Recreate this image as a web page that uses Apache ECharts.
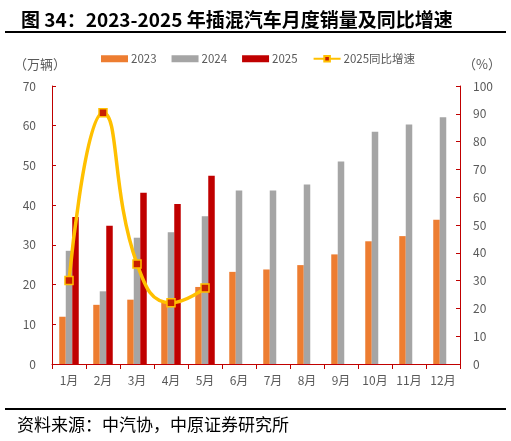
<!DOCTYPE html>
<html>
<head>
<meta charset="utf-8">
<script src="https://cdn.jsdelivr.net/npm/echarts@6/dist/echarts.min.js"></script>
<style>
  html, body { margin: 0; padding: 0; background: #fff; }
  #chart { width: 511px; height: 441px; }
</style>
</head>
<body>
<div id="chart"></div>
<script>
// 月份
const months = ['1月', '2月', '3月', '4月', '5月', '6月', '7月', '8月', '9月', '10月', '11月', '12月']
// 销量（万辆）
const sales2023 = [11.9, 14.9, 16.2, 15.8, 19.4, 23.2, 23.8, 24.9, 27.6, 30.9, 32.2, 36.3]
const sales2024 = [28.5, 18.3, 31.8, 33.2, 37.2, 43.7, 43.7, 45.2, 51.0, 58.5, 60.3, 62.1]
const sales2025 = [37.0, 34.8, 43.1, 40.3, 47.4, null, null, null, null, null, null, null]
// 2025同比增速（%）
const yoy2025 = [30.0, 90.4, 36.0, 22.0, 27.3, null, null, null, null, null, null, null]

const font = '"Noto Sans CJK SC", "Noto Sans", sans-serif'
const textGray = '#595959'
const axisRed = '#C00000'

const chart = echarts.init(document.getElementById('chart'))

const option = {
  animation: false,
  textStyle: { fontFamily: font },
  title: {
    text: '图 34：2023-2025 年插混汽车月度销量及同比增速',
    left: 16,
    top: 5,
    textStyle: { fontFamily: font, fontSize: 19, fontWeight: 'bold', color: '#000' }
  },
  graphic: [
    { type: 'rect', shape: { x: 5, y: 31, width: 501, height: 2 }, style: { fill: '#000' } },
    { type: 'rect', shape: { x: 5, y: 408, width: 501, height: 2 }, style: { fill: '#000' } },
    { type: 'text', left: 17, top: 416, style: { text: '资料来源：中汽协，中原证券研究所', font: '17px ' + font, fill: '#000' } },
    { type: 'text', left: 14, top: 58, style: { text: '（万辆）', font: '13px ' + font, fill: textGray } },
    { type: 'text', left: 463, top: 58, style: { text: '（%）', font: '13px ' + font, fill: textGray } }
  ],
  legend: {
    top: 48,
    left: 96,
    itemWidth: 27,
    itemHeight: 7,
    itemGap: 15,
    textStyle: { fontFamily: font, fontSize: 11.5, color: textGray, padding: [0, 0, 0, -2] },
    data: [
      { name: '2023', icon: 'rect' },
      { name: '2024', icon: 'rect' },
      { name: '2025', icon: 'rect' },
      { name: '2025同比增速' }
    ]
  },
  grid: { left: 52, right: 51, top: 86, bottom: 77 },
  xAxis: {
    type: 'category',
    data: months,
    axisLine: { lineStyle: { color: axisRed, width: 1 } },
    axisTick: { show: true, length: 5, lineStyle: { color: axisRed } },
    axisLabel: { color: textGray, fontSize: 12, margin: 10, fontFamily: font }
  },
  yAxis: [
    {
      type: 'value',
      min: 0,
      max: 70,
      interval: 10,
      axisLine: { show: true, lineStyle: { color: axisRed } },
      axisTick: { show: true, inside: true, length: 4, lineStyle: { color: axisRed } },
      axisLabel: { color: textGray, fontSize: 12, margin: 16, fontFamily: font },
      splitLine: { show: false }
    },
    {
      type: 'value',
      min: 0,
      max: 100,
      interval: 10,
      position: 'right',
      axisLine: { show: true, lineStyle: { color: axisRed } },
      axisTick: { show: true, inside: true, length: 4, lineStyle: { color: axisRed } },
      axisLabel: { color: textGray, fontSize: 12, margin: 13, fontFamily: font },
      splitLine: { show: false }
    }
  ],
  series: [
    {
      name: '2023', type: 'bar', data: sales2023,
      barWidth: 6.5, barGap: '0%',
      itemStyle: { color: '#ED7D31' }
    },
    {
      name: '2024', type: 'bar', data: sales2024,
      barWidth: 6.5, barGap: '0%',
      itemStyle: { color: '#A5A5A5' }
    },
    {
      name: '2025', type: 'bar', data: sales2025,
      barWidth: 6.5, barGap: '0%',
      itemStyle: { color: '#C00000' }
    },
    {
      name: '2025同比增速', type: 'line', yAxisIndex: 1, data: yoy2025,
      smooth: 0.5,
      symbol: 'rect',
      symbolSize: 8,
      lineStyle: { color: '#FFC000', width: 3.5 },
      itemStyle: { color: '#C82000', borderColor: '#FFC000', borderWidth: 1.5 },
      z: 5
    }
  ]
}

chart.setOption(option)
</script>
</body>
</html>
